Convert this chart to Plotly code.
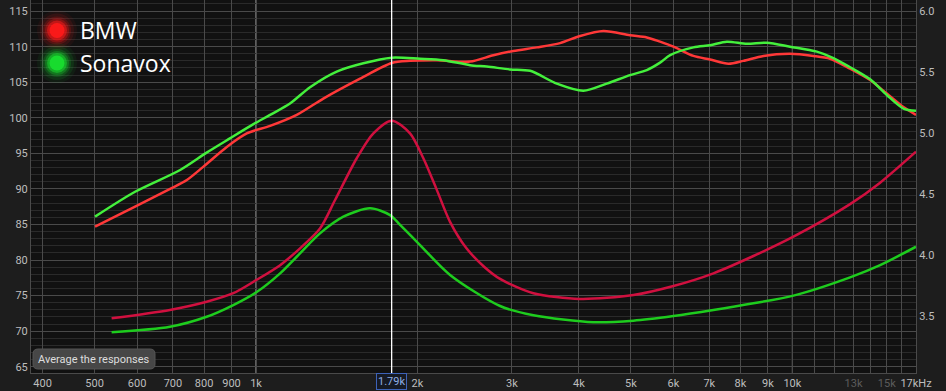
import plotly.graph_objects as go
import math

# ---- data ----
BMW_SPL_F = [501, 595, 696, 743, 797, 882, 961, 1062, 1191, 1335, 1563, 1791, 1937, 2173, 2506,
             2770, 3019, 3338, 3689, 4019, 4443, 4982, 5353, 5666, 6001, 6539, 7024, 7600, 8101,
             8831, 9901, 10944, 11758, 12811, 13960, 14997, 16106, 17000]
BMW_SPL_DB = [84.7, 87.5, 90.1, 91.25, 93.1, 95.9, 97.8, 98.85, 100.4, 102.7, 105.5, 107.7, 108.0, 108.1, 107.9,
              108.8, 109.4, 109.9, 110.5, 111.5, 112.2, 111.6, 111.3, 110.7, 110.0, 108.7, 108.2, 107.6, 108.0,
              108.7, 109.0, 108.7, 108.3, 106.9, 105.3, 103.4, 101.5, 100.4]

SON_SPL_F = [501, 595, 722, 809, 894, 989, 1062, 1157, 1261, 1414, 1585, 1791, 2022, 2235, 2506,
             2693, 2976, 3244, 3637, 4077, 4508, 4982, 5353, 5666, 5916, 6539, 7024, 7548, 8224,
             8961, 9901, 11104, 11927, 12811, 13960, 14997, 16106, 17000]
SON_SPL_DB = [86.1, 89.6, 92.66, 95.1, 97.1, 99.1, 100.4, 102.0, 104.3, 106.5, 107.67, 108.45, 108.3, 108.1, 107.4,
              107.2, 106.8, 106.6, 104.8, 103.8, 104.8, 106.0, 106.7, 107.75, 108.8, 109.9, 110.2, 110.7, 110.4,
              110.55, 110.0, 109.3, 108.4, 107.1, 105.4, 103.2, 101.3, 101.0]

BMW_Z_F = [538, 691, 809, 907, 1003, 1109, 1208, 1316, 1404, 1541, 1655, 1791, 1937, 2051, 2173,
           2300, 2466, 2665, 2851, 3290, 4019, 5053, 6001, 7125, 8460, 10044, 12811, 14574, 17000]
BMW_Z = [3.484, 3.553, 3.62, 3.69, 3.80, 3.92, 4.058, 4.22, 4.454, 4.796, 5.0, 5.104, 5.0, 4.796, 4.537,
         4.275, 4.06, 3.905, 3.807, 3.69, 3.643, 3.675, 3.749, 3.853, 3.995, 4.153, 4.42, 4.596, 4.85]

SON_Z_F = [538, 691, 809, 907, 1003, 1109, 1208, 1316, 1455, 1632, 1778, 1856, 2022, 2300, 2851,
           3290, 4256, 5053, 6001, 7125, 8460, 10044, 12811, 14574, 17000]
SON_Z = [3.37, 3.415, 3.497, 3.593, 3.70, 3.853, 4.017, 4.18, 4.317, 4.386, 4.33, 4.25, 4.085, 3.84, 3.585,
         3.51, 3.452, 3.465, 3.503, 3.552, 3.607, 3.67, 3.82, 3.92, 4.071]

GRID_F = [400, 500, 600, 700, 800, 900, 1000, 2000, 3000, 4000, 5000, 6000, 7000, 8000, 9000, 10000,
          11000, 12000, 13000, 14000, 15000, 16000, 17000]
GRID_LABELS = ["400", "500", "600", "700", "800", "900", "1k", "2k", "3k", "4k", "5k", "6k", "7k", "8k", "9k", "10k",
               "", "", "<span style='color:#5c5c5c'>13k</span>", "", "<span style='color:#5c5c5c'>15k</span>", "", "17kHz"]
BRIGHT_F = [1000, 10000]
CURSOR_F = 1790
CURSOR_LABEL = "1.79k"
LEGEND_NAMES = ["BMW", "Sonavox"]
LEGEND_COLORS = ["#ff1a1a", "#18e030"]

# ---- geometry ----
W, H = 946, 391
PL, PR, PT, PB = 31, 916, 0, 373


def px(x):
    return (x - PL) / (PR - PL)


def py(y):
    return 1 - (y - PT) / (PB - PT)


fig = go.Figure()
fig.add_trace(go.Scatter(x=BMW_SPL_F, y=BMW_SPL_DB, mode="lines", name="BMW",
                         line=dict(color="#ff3838", width=2.5, shape="spline", smoothing=0.8)))
fig.add_trace(go.Scatter(x=SON_SPL_F, y=SON_SPL_DB, mode="lines", name="Sonavox",
                         line=dict(color="#44f03c", width=2.5, shape="spline", smoothing=0.8)))
fig.add_trace(go.Scatter(x=BMW_Z_F, y=BMW_Z, mode="lines", name="BMW Z", yaxis="y2",
                         line=dict(color="#d0103f", width=2.5, shape="spline", smoothing=0.8)))
fig.add_trace(go.Scatter(x=SON_Z_F, y=SON_Z, mode="lines", name="Sonavox Z", yaxis="y2",
                         line=dict(color="#1ecc1e", width=2.5, shape="spline", smoothing=0.8)))

shapes = []
for f in BRIGHT_F:
    shapes.append(dict(type="line", xref="x", yref="paper", x0=f, x1=f, y0=0, y1=1,
                       line=dict(color="#b4b4b4", width=1), layer="between"))
shapes.append(dict(type="line", xref="x", yref="paper", x0=CURSOR_F, x1=CURSOR_F, y0=0, y1=1,
                   line=dict(color="#ffffff", width=1.3), layer="above"))

# glowing legend dots
for i, (name, col) in enumerate(zip(LEGEND_NAMES, LEGEND_COLORS)):
    cy = 30.5 + i * 32.5
    cx = 57
    for r, op in [(20, 0.06), (17, 0.1), (14, 0.17), (12, 0.28), (10, 0.5), (7.5, 0.9)]:
        shapes.append(dict(type="circle", xref="paper", yref="paper", xsizemode="pixel", ysizemode="pixel",
                           xanchor=px(cx), yanchor=py(cy), x0=-r, x1=r, y0=-r, y1=r,
                           fillcolor=col, opacity=op, line=dict(width=0), layer="above"))

# rounded button
bx0, bx1, by0, by1, rr = 33, 155, 349, 369, 5
path = (f"M {px(bx0 + rr)},{py(by0)} L {px(bx1 - rr)},{py(by0)} Q {px(bx1)},{py(by0)} {px(bx1)},{py(by0 + rr)} "
        f"L {px(bx1)},{py(by1 - rr)} Q {px(bx1)},{py(by1)} {px(bx1 - rr)},{py(by1)} "
        f"L {px(bx0 + rr)},{py(by1)} Q {px(bx0)},{py(by1)} {px(bx0)},{py(by1 - rr)} "
        f"L {px(bx0)},{py(by0 + rr)} Q {px(bx0)},{py(by0)} {px(bx0 + rr)},{py(by0)} Z")
shapes.append(dict(type="path", xref="paper", yref="paper", path=path, fillcolor="#474747",
                   line=dict(color="#555555", width=1), layer="above"))

annotations = []
for i, name in enumerate(LEGEND_NAMES):
    annotations.append(dict(text=name, xref="paper", yref="paper", x=px(78), y=py(30.5 + i * 32.5),
                            xanchor="left", yanchor="middle", showarrow=False,
                            font=dict(family="Open Sans", size=23, color="#ffffff")))
annotations.append(dict(text="Average the responses", xref="paper", yref="paper", x=px(94), y=py(359),
                        xanchor="center", yanchor="middle", showarrow=False,
                        font=dict(family="Roboto", size=11, color="#dddddd")))
annotations.append(dict(text=CURSOR_LABEL, xref="x", yref="paper", x=math.log10(CURSOR_F), y=py(381.5),
                        xanchor="center", yanchor="middle", showarrow=False,
                        bgcolor="#161a24", bordercolor="#3d62b8", borderwidth=1, borderpad=1,
                        font=dict(family="Roboto", size=11, color="#8eaee6")))

fig.update_layout(
    width=W, height=H,
    margin=dict(l=PL, r=W - PR, t=PT, b=H - PB, pad=0),
    paper_bgcolor="#1d1d1d", plot_bgcolor="#111111",
    showlegend=False,
    shapes=shapes, annotations=annotations,
    xaxis=dict(type="log", range=[math.log10(380.6), math.log10(17000)],
               tickmode="array", tickvals=GRID_F, ticktext=GRID_LABELS,
               showgrid=True, gridcolor="#4a4a4a", gridwidth=1,
               showline=True, linecolor="#4a4a4a", ticks="", zeroline=False,
               tickfont=dict(family="Roboto", size=11, color="#bdbdbd")),
    yaxis=dict(range=[64.11, 116.56], dtick=5, tick0=0, showgrid=True, gridcolor="#4a4a4a",
               minor=dict(dtick=1, showgrid=True, gridcolor="#2a2a2a"),
               showline=True, linecolor="#4a4a4a", ticks="", zeroline=False,
               tickfont=dict(family="Roboto", size=11, color="#bdbdbd")),
    yaxis2=dict(range=[3.036, 6.093], dtick=0.5, tick0=0, tickformat=".1f", overlaying="y", side="right",
                showgrid=False, showline=True, linecolor="#4a4a4a", ticks="", zeroline=False,
                tickfont=dict(family="Roboto", size=11, color="#bdbdbd")),
)

fig.write_html("out.html")
